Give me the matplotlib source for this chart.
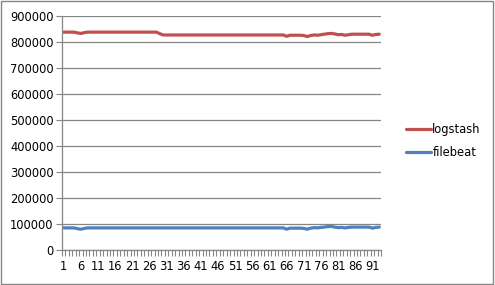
import matplotlib
matplotlib.use("Agg")
import matplotlib.pyplot as plt
import numpy as np
from matplotlib.patches import Rectangle

x = list(range(1, 94))
logstash = ([838000]*4 + [835000, 833000, 836000] + [838000]*21 + [832000] + [827000]*36 +
            [822000, 826000, 826000, 826000, 826000, 825000, 821000, 825000, 827000, 826000,
             828000, 830000, 832000, 833000, 831000, 828000, 829000, 826000, 828000, 830000,
             830000, 830000, 830000, 830000, 830000, 826000, 829000, 830000])
filebeat = ([85000]*4 + [82000, 80000, 83000] + [85000]*58 +
            [80000, 84000, 84000, 84000, 84000, 83000, 80000, 84000, 86000, 85000,
             87000, 88000, 90000, 91000, 88000, 86000, 87000, 85000, 87000, 88000,
             88000, 88000, 88000, 88000, 88000, 84000, 87000, 88000])
yticks = list(range(0, 900001, 100000))
xlabels = list(range(1, 94, 5))

fig = plt.figure(figsize=(4.95, 2.85), dpi=100)
ax = fig.add_axes([62/495, 1-250/285, (381-62)/495, (250-16)/285])

ax.plot(x, logstash, color='#C0504D', lw=2.3, label='logstash', solid_capstyle='round')
ax.plot(x, filebeat, color='#4F81BD', lw=2.3, label='filebeat', solid_capstyle='round')

ax.set_xlim(0.5, 93.5)
ax.set_ylim(0, 900000)
ax.set_yticks(yticks)
ax.set_yticklabels([str(v) for v in yticks])
ax.set_xticks(xlabels)
ax.set_xticklabels([str(v) for v in xlabels])
ax.set_xticks(np.arange(0.5, 94, 1.0), minor=True)
ax.tick_params(axis='x', which='major', length=0, pad=7, labelsize=8.3, colors='black')
ax.tick_params(axis='x', which='minor', length=4, color='#868686', width=0.8)
ax.tick_params(axis='y', which='major', length=4, color='#868686', width=0.8, labelsize=8.3, pad=2)
ax.grid(axis='y', color='#868686', lw=0.9)
ax.set_axisbelow(True)
for s in ['top', 'right']:
    ax.spines[s].set_visible(False)
for s in ['left', 'bottom']:
    ax.spines[s].set_color('#868686')
    ax.spines[s].set_linewidth(0.9)

fig.legend(loc='center left', bbox_to_anchor=(396/495, 1-141/285), frameon=False,
           fontsize=8.3, handlelength=2.1, handletextpad=0.15, labelspacing=0.9)

fig.patches.append(Rectangle((0.002, 0.003), 0.994, 0.993, transform=fig.transFigure,
                             fill=False, edgecolor='#868686', lw=1))
fig.savefig('out.png', dpi=100)
